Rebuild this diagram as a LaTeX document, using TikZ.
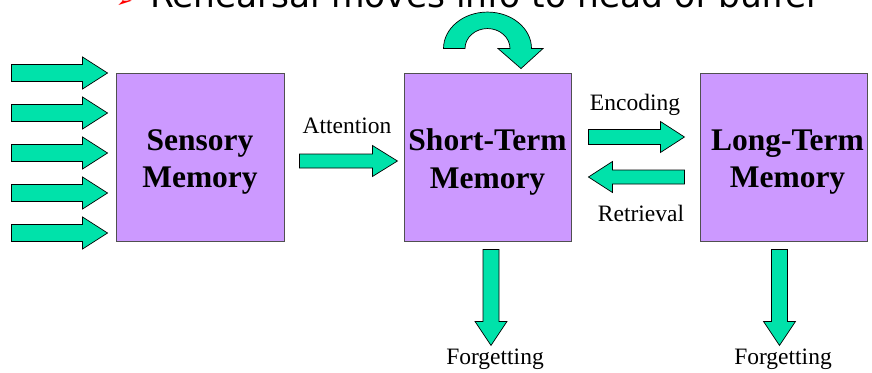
\documentclass[tikz,border=0pt]{standalone}
\usepackage{fontspec}
\setmainfont{Liberation Serif}
\newfontfamily\titlefont{DejaVu Sans}
\usetikzlibrary{calc}
\definecolor{boxfill}{RGB}{204,153,255}
\definecolor{arrowfill}{RGB}{0,226,170}
\definecolor{boxline}{RGB}{80,80,80}
\begin{document}
\begin{tikzpicture}[x=1pt,y=-1pt,
  mem/.style={draw=boxline, line width=0.9pt, fill=boxfill, minimum width=167pt, minimum height=168pt, inner sep=0pt},
  memtext/.style={font=\fontsize{31.5}{37.8}\selectfont\bfseries, align=center, inner sep=0pt},
  lbl/.style={font=\fontsize{23.5}{28}\selectfont, inner sep=0pt, anchor=base},
  blk/.style={draw=black, line width=0.7pt, fill=arrowfill, line join=miter},
  pics/barrow/.style args={#1/#2/#3/#4}{code={
    \path[blk] (0,-#2) -- ({#1-#4},-#2) -- ({#1-#4},-#3) -- (#1,0) -- ({#1-#4},#3) -- ({#1-#4},#2) -- (0,#2) -- cycle;}}
]
\useasboundingbox (0,0) rectangle (872,372);
\clip (0,0) rectangle (872,372);

% title (cut off at top)
\node[anchor=base west, text=red, font=\titlefont\fontsize{20}{20}\selectfont, inner sep=0pt] (bullet) at (116,7.5) {➢};
\node[anchor=base west, inner sep=0pt, font=\titlefont\fontsize{34.4}{40}\selectfont] (title) at (150,7.5) {Rehearsal moves info to head of buffer};

% memory boxes
\node[mem, minimum width=168pt] (sens) at (200,157) {};
\node[mem] (stm) at (487.5,157) {};
\node[mem] (ltm) at (783.5,157) {};
\node[memtext] (senst) at ($(sens.center)+(0,5)$) {Sensory\\Memory};
\node[memtext] (stmt) at ($(stm.center)+(0,5)$) {Short-Term\\Memory};
\node[memtext] (ltmt) at ($(ltm.center)+(4,5)$) {Long-Term\\Memory};

% input arrows
\foreach \d in {-84,-44,-4,36,76}
  \pic at ($(sens.west)+(-104,\d)$) {barrow=96/8.5/16/25};

% attention
\pic at ($(sens.east)+(15,4)$) {barrow=98/7/15.5/25};
\node[lbl] (att) at (347,133) {Attention};

% encoding / retrieval
\pic at ($(stm.east)+(17,-20)$) {barrow=96/7.5/15.5/24};
\pic[rotate=180] at ($(stm.east)+(113,20)$) {barrow=96/7/15.5/24};
\node[lbl] (enc) at (635,110) {Encoding};
\node[lbl] (ret) at (641,221) {Retrieval};

% forgetting
\pic[rotate=-90] at ($(stm.south)+(3.5,8)$) {barrow=96/8/16/24};
\pic[rotate=-90] at ($(ltm.south)+(-4,8)$) {barrow=96/8/16/24};
\node[lbl] (f1) at (495,364) {Forgetting};
\node[lbl] (f2) at (783,364) {Forgetting};

% rehearsal loop
\coordinate (rc) at ($(stm.north)+(0,-24)$);
\path[blk] ($(rc)+(-44,0)$)
  .. controls ($(rc)+(-44,-20.2)$) and ($(rc)+(-24.3,-36.5)$) .. ($(rc)+(0,-36.5)$)
  .. controls ($(rc)+(24.3,-36.5)$) and ($(rc)+(44,-20.2)$) .. ($(rc)+(44,0)$)
  -- ($(rc)+(55.5,0)$) -- ($(rc)+(33.5,20)$) -- ($(rc)+(10.5,0)$) -- ($(rc)+(22.5,0)$)
  .. controls ($(rc)+(22.5,-11)$) and ($(rc)+(12.4,-20)$) .. ($(rc)+(0,-20)$)
  .. controls ($(rc)+(-12.4,-20)$) and ($(rc)+(-22.5,-11)$) .. ($(rc)+(-22.5,0)$)
  -- cycle;
\end{tikzpicture}
\end{document}
